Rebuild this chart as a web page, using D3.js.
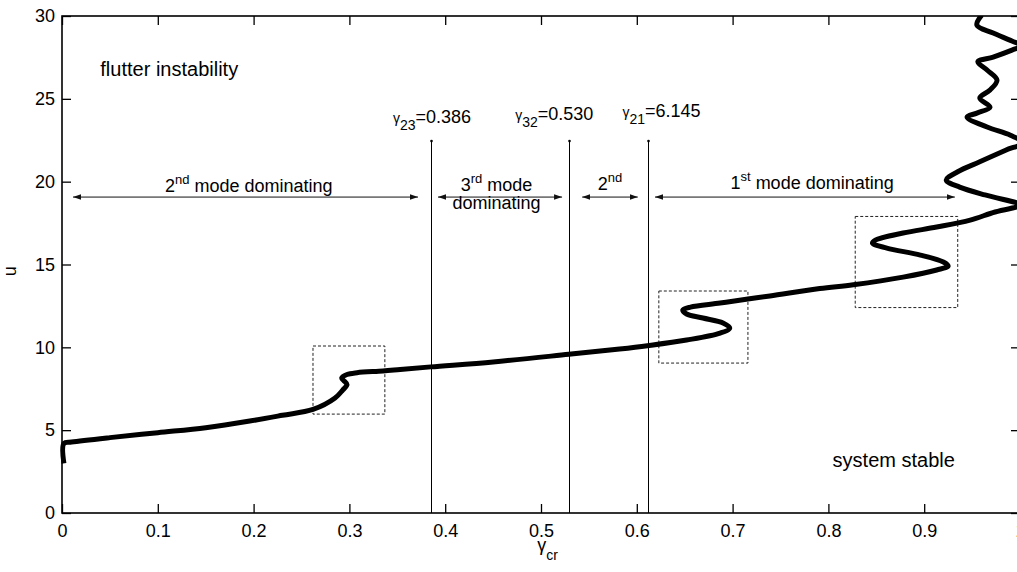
<!DOCTYPE html>
<html>
<head>
<meta charset="utf-8">
<script src="https://cdn.jsdelivr.net/npm/d3@7"></script>
<style>
  body { margin: 0; background: #fff; }
  svg { display: block; font-family: "Liberation Sans", Arial, sans-serif; }
</style>
</head>
<body>
<div id="chart"></div>
<script>
//DATA
// critical curve, gamma_cr vs u (the S-bends go back on gamma, so keep order)
const gammaCr = [0.002, 0.002, 0.01, 0.05, 0.1, 0.15, 0.196, 0.23, 0.262, 0.285, 0.293, 0.2975, 0.294, 0.292, 0.2975, 0.308, 0.335, 0.353,
  0.385, 0.45, 0.529, 0.582, 0.611, 0.652, 0.687, 0.697, 0.690, 0.669, 0.652, 0.648, 0.656, 0.687, 0.716, 0.739,
  0.791, 0.826, 0.878, 0.913, 0.925, 0.920, 0.896, 0.861, 0.846, 0.849, 0.878, 0.913, 0.948, 0.974, 0.997, 1.004,
  0.997, 0.9635, 0.937, 0.923, 0.935, 0.958, 0.985, 1.003, 0.99, 0.9656, 0.9447, 0.955, 0.9687, 0.958, 0.9687, 0.976,
  0.9656, 0.956, 0.972, 0.9916, 1.002, 0.9916, 0.972, 0.955, 0.96];
const uVals = [3.0, 4.2, 4.28, 4.55, 4.85, 5.15, 5.55, 5.9, 6.25, 6.94, 7.42, 7.75, 8.0, 8.15, 8.36, 8.47, 8.57, 8.66,
  8.82, 9.12, 9.58, 9.9, 10.1, 10.44, 10.86, 11.16, 11.47, 11.77, 12.01, 12.25, 12.43, 12.67, 12.92, 13.1,
  13.55, 13.78, 14.24, 14.67, 14.91, 15.15, 15.57, 15.99, 16.29, 16.47, 16.9, 17.26, 17.68, 18.17, 18.47, 18.58,
  18.72, 19.2, 19.67, 20.1, 20.6, 21.2, 21.9, 22.35, 22.8, 23.3, 23.9, 24.14, 24.5, 25.05, 25.53, 26.13,
  26.74, 27.24, 27.52, 27.94, 28.2, 28.49, 28.97, 29.45, 30.05];

// switching points between dominating modes
const switchGamma = [0.385, 0.5295, 0.6115];
const switchTop = 22.45;
const switchSub = ["23", "32", "21"];
const switchText = ["=0.386", "=0.530", "=6.145"];
// where each label starts and its baseline (gamma, u)
const switchLabelG = [0.3455, 0.473, 0.585];
const switchLabelU = [23.55, 23.75, 23.9];

// zoom boxes round the S-bends [g0, g1, u0, u1]
const boxG0 = [0.262, 0.623, 0.828];
const boxG1 = [0.337, 0.716, 0.935];
const boxU0 = [5.97, 9.05, 12.4];
const boxU1 = [10.08, 13.4, 17.9];

// double arrows for the regions
const arrowG0 = [0.0115, 0.3925, 0.543, 0.619];
const arrowG1 = [0.3716, 0.522, 0.601, 0.932];
const arrowU = 19.07;

const xTicks = [0, 0.1, 0.2, 0.3, 0.4, 0.5, 0.6, 0.7, 0.8, 0.9, 1];
const yTicks = [0, 5, 10, 15, 20, 25, 30];

//LAYOUT
const W = 1017, H = 572;
const margin = {top: 16, right: -3, bottom: 59, left: 62};
const width = W - margin.left - margin.right;
const height = H - margin.top - margin.bottom;
const fontSize = 18;
const nameSize = 20; //"flutter instability" / "system stable" look a bit bigger

const svg = d3.select("#chart").append("svg")
  .attr("width", W)
  .attr("height", H);

const g = svg.append("g")
  .attr("transform", "translate(" + margin.left + "," + margin.top + ")");

const x = d3.scaleLinear().domain([0, 1]).range([0, width]);
const y = d3.scaleLinear().domain([0, 30]).range([height, 0]);

// clip so the curve stays inside the axes box (a bit loose on the left for the x=0 bit)
const defs = svg.append("defs");
defs.append("clipPath").attr("id", "plotClip")
  .append("rect").attr("x", -4).attr("y", 0).attr("width", width + 4).attr("height", height);

// arrow heads
defs.append("marker")
  .attr("id", "head")
  .attr("viewBox", "0 -4 10 8")
  .attr("refX", 10).attr("refY", 0)
  .attr("markerUnits", "userSpaceOnUse")
  .attr("markerWidth", 8).attr("markerHeight", 7)
  .attr("orient", "auto-start-reverse")
  .append("path").attr("d", "M0,-3.5L10,0L0,3.5Z").attr("fill", "#111");

//AXES (matlab style box, ticks pointing in)
const tickLen = 9;
g.append("g")
  .attr("transform", "translate(0," + height + ")")
  .call(d3.axisBottom(x).tickValues(xTicks).tickSizeInner(-tickLen).tickSizeOuter(0).tickPadding(11)
    .tickFormat(d3.format(".1~f")))
  .call(a => a.select(".domain").remove());
g.append("g")
  .call(d3.axisLeft(y).tickValues(yTicks).tickSizeInner(-tickLen).tickSizeOuter(0).tickPadding(7))
  .call(a => a.select(".domain").remove());
g.append("g")
  .call(d3.axisTop(x).tickValues(xTicks).tickSizeInner(-tickLen).tickSizeOuter(0).tickFormat(""))
  .call(a => a.select(".domain").remove());
g.append("g")
  .attr("transform", "translate(" + width + ",0)")
  .call(d3.axisRight(y).tickValues(yTicks).tickSizeInner(-tickLen).tickSizeOuter(0).tickFormat(""))
  .call(a => a.select(".domain").remove());

g.selectAll(".tick line").attr("stroke", "#000").attr("stroke-width", 1.3);
g.selectAll(".tick text")
  .attr("fill", "#000")
  .style("font-size", fontSize + "px")
  .style("font-family", "\"Liberation Sans\", Arial, sans-serif");

g.append("rect")
  .attr("x", 0).attr("y", 0)
  .attr("width", width).attr("height", height)
  .attr("fill", "none")
  .attr("stroke", "#000")
  .attr("stroke-width", 1.6);

// axis labels
svg.append("text")
  .attr("x", margin.left + x(0.507))
  .attr("y", 551)
  .attr("text-anchor", "middle")
  .style("font-size", fontSize + "px")
  .text("\u03b3")
  .append("tspan").attr("dy", 9).style("font-size", "14px").text("cr");

svg.append("text")
  .attr("transform", "translate(16," + (margin.top + y(14.6)) + ") rotate(-90)")
  .attr("text-anchor", "middle")
  .style("font-size", fontSize + "px")
  .text("u");

//SWITCH LINES
switchGamma.forEach(function(sg, i) {
  const px = Math.round(x(sg)) + 0.5;
  g.append("line")
    .attr("x1", px).attr("x2", px)
    .attr("y1", y(switchTop)).attr("y2", height)
    .attr("stroke", "#000").attr("stroke-width", 1);
  g.append("circle")
    .attr("cx", px).attr("cy", y(switchTop))
    .attr("r", 1.3).attr("fill", "#000");

  const lbl = g.append("text")
    .attr("x", x(switchLabelG[i]))
    .attr("y", y(switchLabelU[i]))
    .style("font-size", fontSize + "px");
  lbl.append("tspan").style("font-size", "14px").text("\u03b3");
  lbl.append("tspan").attr("dy", 7).style("font-size", "14px").text(switchSub[i]);
  lbl.append("tspan").attr("dy", -7).text(switchText[i]);
});

//ZOOM BOXES
g.selectAll(".zoombox")
  .data(boxG0)
  .enter()
  .append("rect")
  .attr("class", "zoombox")
  .attr("x", (d, i) => x(boxG0[i]))
  .attr("y", (d, i) => y(boxU1[i]))
  .attr("width", (d, i) => x(boxG1[i]) - x(boxG0[i]))
  .attr("height", (d, i) => y(boxU0[i]) - y(boxU1[i]))
  .attr("fill", "none")
  .attr("stroke", "#222")
  .attr("stroke-width", 1)
  .attr("stroke-dasharray", "3,2");

//ARROWS
g.selectAll(".region")
  .data(arrowG0)
  .enter()
  .append("line")
  .attr("class", "region")
  .attr("x1", (d, i) => x(arrowG0[i]))
  .attr("x2", (d, i) => x(arrowG1[i]))
  .attr("y1", y(arrowU)).attr("y2", y(arrowU))
  .attr("stroke", "#111")
  .attr("stroke-width", 1)
  .attr("marker-start", "url(#head)")
  .attr("marker-end", "url(#head)");

// region texts with superscripts
function supText(px, py, big, sup, rest) {
  const t = g.append("text")
    .attr("x", px).attr("y", py)
    .attr("text-anchor", "middle")
    .style("font-size", fontSize + "px");
  t.append("tspan").text(big);
  t.append("tspan").attr("dy", -8).style("font-size", "13px").text(sup);
  t.append("tspan").attr("dy", 8).text(rest);
  return t;
}
const ay = y(arrowU);
supText(x(0.195), ay - 5, "2", "nd", " mode dominating");
supText(x(0.4535), ay - 6, "3", "rd", " mode");
g.append("text")
  .attr("x", x(0.4535)).attr("y", ay + 12)
  .attr("text-anchor", "middle")
  .style("font-size", fontSize + "px")
  .text("dominating");
supText(x(0.572), ay - 7, "2", "nd", "");
supText(x(0.783), ay - 8, "1", "st", " mode dominating");

// region names
g.append("text")
  .attr("x", x(0.04)).attr("y", y(26.4))
  .style("font-size", nameSize + "px")
  .text("flutter instability");
g.append("text")
  .attr("x", x(0.932)).attr("y", y(2.75))
  .attr("text-anchor", "end")
  .style("font-size", nameSize + "px")
  .text("system stable");

//CURVE
const pts = gammaCr.map((d, i) => [d, uVals[i]]);
const line = d3.line()
  .x(d => x(d[0]))
  .y(d => y(d[1]))
  .curve(d3.curveCatmullRom.alpha(0.5));

g.append("path")
  .datum(pts)
  .attr("clip-path", "url(#plotClip)")
  .attr("d", line)
  .attr("fill", "none")
  .attr("stroke", "#000")
  .attr("stroke-width", 5)
  .attr("stroke-linejoin", "round");
</script>
</body>
</html>
